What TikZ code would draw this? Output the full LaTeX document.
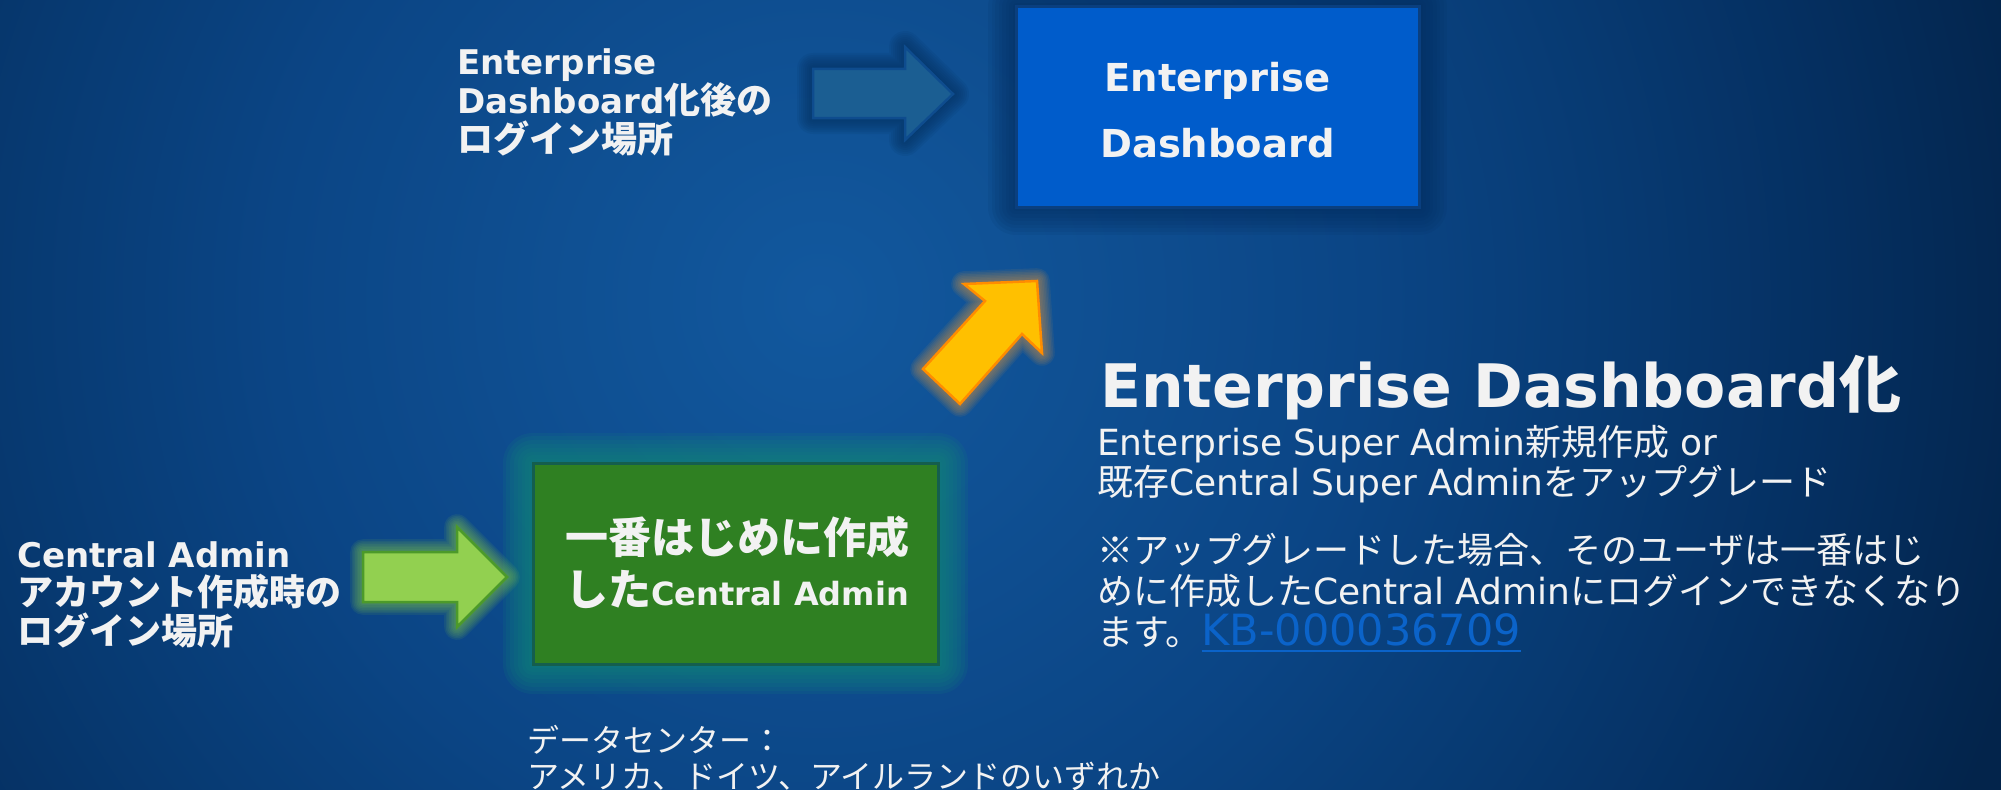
\documentclass[tikz,border=0pt]{standalone}
\usepackage{fontspec}
\setmainfont{DejaVu Sans}
\newfontfamily\jp{Noto Sans CJK JP}
\newfontfamily\jpA{Noto Sans CJK JP}[Scale=1.06]
\newcommand\J[1]{{\jp #1}}
\newcommand\JA[1]{{\jpA #1}}
% underline at a fixed distance below the baseline
\newcommand\linkul[1]{\setbox0\hbox{#1}\rlap{\rule[-7bp]{\wd0}{1.8bp}}\box0}

\definecolor{bgc0}{HTML}{12589E}
\definecolor{bgc1}{HTML}{0F5093}
\definecolor{bgc2}{HTML}{0B4585}
\definecolor{bgc3}{HTML}{073A72}
\definecolor{bgc4}{HTML}{053062}
\definecolor{bgc5}{HTML}{03244B}
\definecolor{txt}{HTML}{F2F2F2}
\definecolor{edfill}{HTML}{005CCB}
\definecolor{edline}{HTML}{0A3F7F}
\definecolor{edglow}{HTML}{042C5C}
\definecolor{cafill}{HTML}{2F8022}
\definecolor{caline}{HTML}{145E4E}
\definecolor{caglow}{HTML}{10857A}
\definecolor{bafill}{HTML}{1B5E92}
\definecolor{baline}{HTML}{0E4C8E}
\definecolor{baglow}{HTML}{04305F}
\definecolor{gafill}{HTML}{92D050}
\definecolor{galine}{HTML}{4C9A2A}
\definecolor{gaglow}{HTML}{7CC04A}
\definecolor{oafill}{HTML}{FFC000}
\definecolor{oaline}{HTML}{FF8C00}
\definecolor{oaglow}{HTML}{C89048}
\definecolor{kb}{HTML}{0B63C9}

% the path's bounding box maps onto the central 25bp radius of the shading
\pgfdeclareradialshading{bgrad}{\pgfpoint{0bp}{0bp}}{%
  color(0bp)=(bgc0); color(5bp)=(bgc1); color(11bp)=(bgc2);
  color(16bp)=(bgc3); color(20bp)=(bgc4); color(25bp)=(bgc5); color(50bp)=(bgc5)}

% soft halo: stacked translucent strokes around a closed path
\newcommand\halo[5]{% colour, step, count, opacity, path
  \foreach \k in {#3,...,1}{%
    \pgfmathsetmacro\lw{2*\k*#2}%
    \draw[draw=#1, line width=\lw bp, opacity=#4, line join=round] #5;
  }}

\tikzset{
  lbl/.style={inner sep=0pt, anchor=base west, align=left, text=txt},
  boldlbl/.style={lbl, font=\fontsize{34bp}{38.5bp}\selectfont\bfseries},
  bodytxt/.style={lbl, font=\fontsize{36bp}{40.5bp}\selectfont},
  panel/.style={draw, line width=3bp, inner sep=0pt},
  blockarrow/.style={line width=2.5bp, line join=miter}
}

\begin{document}
\begin{tikzpicture}[x=1bp,y=-1bp]
\useasboundingbox (0,0) rectangle (2001,790);

% background
\fill[bgc5] (0,0) rectangle (2001,790);
\begin{scope}
  \clip (0,0) rectangle (2001,790);
  \shade[shading=bgrad] (820,300) circle (1250bp);
\end{scope}

% halos
\halo{edglow}{3.5}{8}{0.10}{(1016,7) rectangle (1419,207)}
\halo{caglow}{3.8}{8}{0.15}{(533,463) rectangle (938,664)}
\halo{baglow}{2}{8}{0.11}{(813,69) -- (905,69) -- (905,47) -- (953,94) -- (905,140) -- (905,118) -- (813,118) -- cycle}
\halo{gaglow}{1.6}{8}{0.10}{(363,552) -- (457,552) -- (457,527) -- (507,577) -- (457,627) -- (457,602) -- (363,602) -- cycle}
\halo{oaglow}{1.6}{8}{0.10}{(1037,281) -- (964,284) -- (985,301) -- (923,369) -- (960,404) -- (1022,334) -- (1042,353) -- cycle}

% panels
\node[panel, fill=edfill, draw=edline, minimum width=403bp, minimum height=200bp] (ed) at (1217.5,107) {};
\node[panel, fill=cafill, draw=caline, minimum width=405bp, minimum height=201bp] (ca) at (735.5,563.5) {};

% panel texts (anchored at the baseline of their last line)
\node[inner sep=0pt, anchor=base, align=center, text=txt,
      font=\fontsize{38.5bp}{65bp}\selectfont\bfseries] (ed-text) at (1217.5,157) {Enterprise\\Dashboard};
\node[inner sep=0pt, anchor=base, align=center, text=txt,
      font=\fontsize{43bp}{52bp}\selectfont\bfseries] (ca-text) at (737,605)
  {\J{一番はじめに作成}\\\J{した}{\fontsize{32bp}{52bp}\selectfont Central Admin}};

% block arrows
\draw[blockarrow, fill=bafill, draw=baline] (813,69) -- (905,69) -- (905,47) -- (953,94) -- (905,140) -- (905,118) -- (813,118) -- cycle;
\draw[blockarrow, fill=gafill, draw=galine] (363,552) -- (457,552) -- (457,527) -- (507,577) -- (457,627) -- (457,602) -- (363,602) -- cycle;
\draw[blockarrow, fill=oafill, draw=oaline] (1037,281) -- (964,284) -- (985,301) -- (923,369) -- (960,404) -- (1022,334) -- (1042,353) -- cycle;

% side labels
\node[boldlbl] (ed-login) at (457,152) {Enterprise\\Dashboard\JA{化後の}\\\JA{ログイン場所}};
\node[boldlbl] (ca-login) at (17,644) {Central Admin\\\JA{アカウント作成時の}\\\JA{ログイン場所}};

% right-hand explanation
\node[lbl, font=\fontsize{60bp}{60bp}\selectfont\bfseries] (title) at (1100,407)
  {Enterprise Dashboard{\jp\fontsize{62bp}{62bp}\selectfont 化}};
\node[bodytxt] (sub) at (1097,495.5)
  {Enterprise Super Admin\J{新規作成} or\\\J{既存}Central Super Admin\J{をアップグレード}};
\node[lbl, font=\fontsize{36bp}{41bp}\selectfont] (note) at (1097,645)
  {\J{※アップグレードした場合、そのユーザは一番はじ}\\\J{めに作成した}Central Admin\J{にログインできなくなり}\\\J{ます。}{\fontsize{43bp}{41bp}\selectfont\color{kb}\linkul{KB-000036709}}};

% data centre
\node[lbl, font=\fontsize{32bp}{36bp}\selectfont\jp] (dc) at (527,788)
  {データセンター：\\アメリカ、ドイツ、アイルランドのいずれか};
\end{tikzpicture}
\end{document}
